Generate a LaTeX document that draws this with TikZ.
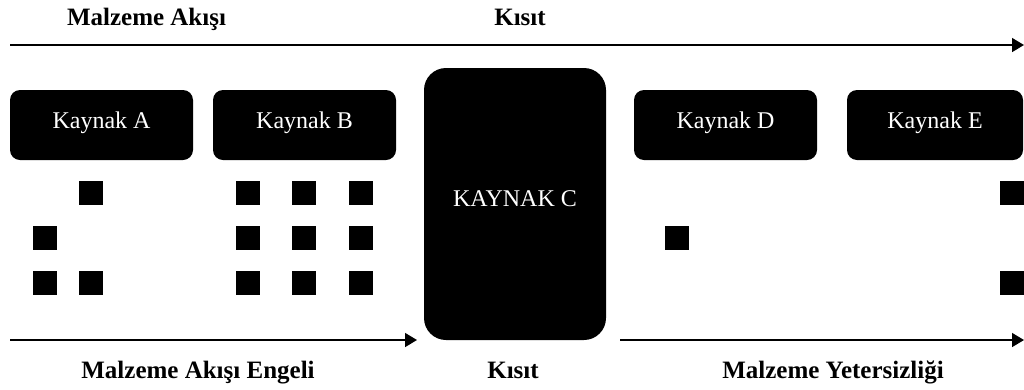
\documentclass[tikz,border=0pt]{standalone}
\usepackage{fontspec}
\setmainfont{Liberation Serif}
\usetikzlibrary{arrows.meta, positioning}

\tikzset{
  kaynak/.style={fill=black, text=white, rounded corners=10pt, inner sep=0pt,
    minimum width=183pt, minimum height=70pt, text depth=10pt},
  parca/.style={fill=black, inner sep=0pt, minimum size=24pt},
  etiket/.style={font=\fontsize{25}{29}\selectfont\bfseries, anchor=base},
  akis/.style={line width=1.5pt, -{Triangle[length=12pt, width=14pt]}}
}

\begin{document}
\begin{tikzpicture}[x=1pt, y=-1pt, font=\fontsize{24}{28}\selectfont]
  \useasboundingbox (0,0) rectangle (1024,389);

  % resources
  \node[kaynak] (kA) at (101.5,125) {Kaynak A};
  \node[kaynak] (kB) at (304.5,125) {Kaynak B};
  \node[kaynak, rounded corners=22pt, minimum height=272pt, minimum width=182pt]
    (kC) at (515,204) {KAYNAK C};
  \node[kaynak] (kD) at (725.5,125) {Kaynak D};
  \node[kaynak, minimum width=176pt] (kE) at (935,125) {Kaynak E};

  % stock in front of A
  \node[parca] (a1) at (90.5,193) {};
  \node[parca] (a2) at (45,238) {};
  \node[parca] (a3) at (45,283) {};
  \node[parca] (a4) at (90.5,283) {};

  % stock in front of B
  \foreach \x [count=\i] in {248,304,361}
    \foreach \y [count=\j] in {193,238,283}
      \node[parca] (b\i\j) at (\x,\y) {};

  % stock after C
  \node[parca] (d1) at (676.5,238) {};
  \node[parca] (e1) at (1012,193) {};
  \node[parca] (e2) at (1012,283) {};

  % flow arrows
  \coordinate (ust1) at (10,45);
  \coordinate (ust2) at (1024,45);
  \coordinate (alt1) at (10,340);
  \coordinate (alt2) at (417,340);
  \coordinate (alt3) at (620,340);
  \coordinate (alt4) at (1024,340);
  \draw[akis] (ust1) -- (ust2);
  \draw[akis] (alt1) -- (alt2);
  \draw[akis] (alt3) -- (alt4);

  % labels
  \node[etiket] (l1) at (146.5,25) {Malzeme Akışı};
  \node[etiket] (l2) at (520,25) {Kısıt};
  \node[etiket] (l3) at (198,378) {Malzeme Akışı Engeli};
  \node[etiket] (l4) at (513,378) {Kısıt};
  \node[etiket] (l5) at (833,378) {Malzeme Yetersizliği};
\end{tikzpicture}
\end{document}
